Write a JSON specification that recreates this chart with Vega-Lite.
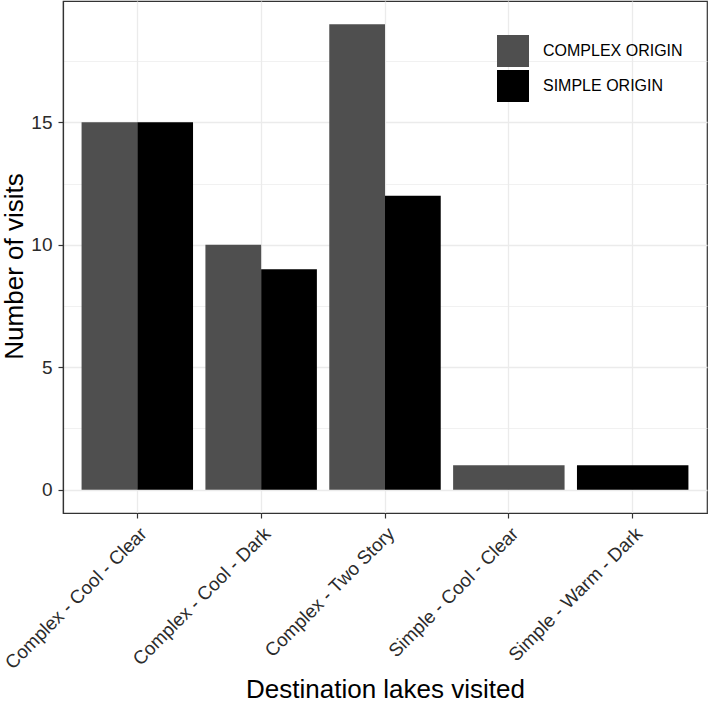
{
  "$schema": "https://vega.github.io/schema/vega-lite/v6.json",
  "width": 644,
  "height": 512,
  "autosize": {"type": "none"},
  "padding": {"left": 63, "top": 1, "right": 2, "bottom": 190},
  "background": "white",
  "config": {
    "font": "Liberation Sans",
    "view": {"stroke": "#333333", "strokeWidth": 1.2},
    "axis": {
      "gridColor": "#ebebeb",
      "gridWidth": 1.3,
      "domainColor": "#333333",
      "domainWidth": 1.2,
      "tickColor": "#333333",
      "tickWidth": 1.2,
      "tickSize": 5,
      "labelColor": "#2b2b2b",
      "labelFontSize": 19,
      "labelFont": "Liberation Sans",
      "labelLimit": 0,
      "titleFont": "Liberation Sans",
      "titleFontSize": 26,
      "titleFontWeight": "normal",
      "titleColor": "#000000"
    }
  },
  "data": {
    "values": [
      {"lake": "Complex - Cool - Clear", "origin": "COMPLEX ORIGIN", "visits": 15},
      {"lake": "Complex - Cool - Clear", "origin": "SIMPLE ORIGIN", "visits": 15},
      {"lake": "Complex - Cool - Dark", "origin": "COMPLEX ORIGIN", "visits": 10},
      {"lake": "Complex - Cool - Dark", "origin": "SIMPLE ORIGIN", "visits": 9},
      {"lake": "Complex - Two Story", "origin": "COMPLEX ORIGIN", "visits": 19},
      {"lake": "Complex - Two Story", "origin": "SIMPLE ORIGIN", "visits": 12},
      {"lake": "Simple - Cool - Clear", "origin": "COMPLEX ORIGIN", "visits": 1},
      {"lake": "Simple - Warm - Dark", "origin": "SIMPLE ORIGIN", "visits": 1}
    ]
  },
  "transform": [
    {"joinaggregate": [{"op": "count", "as": "n"}], "groupby": ["lake"]}
  ],
  "layer": [
    {
      "transform": [{"filter": "datum.n > 1"}],
      "mark": {"type": "bar"},
      "encoding": {
        "x": {
          "field": "lake",
          "type": "nominal",
          "sort": null,
          "scale": {"paddingInner": 0.1, "paddingOuter": 0.15},
          "axis": {
            "title": "Destination lakes visited",
            "labelAngle": -45,
            "labelAlign": "right",
            "labelBaseline": "top",
            "labelFontSize": 18.8,
            "labelPadding": 6,
            "bandPosition": 0.5,
            "grid": true,
            "titleBaseline": "alphabetic",
            "titleY": 184
          }
        },
        "xOffset": {
          "field": "origin",
          "type": "nominal",
          "scale": {"paddingInner": 0, "paddingOuter": 0}
        },
        "y": {
          "field": "visits",
          "type": "quantitative",
          "scale": {"domain": [-0.95, 19.95], "nice": false, "zero": false},
          "axis": {
            "title": "Number of visits",
            "values": [0, 5, 10, 15],
            "labelPadding": 6,
            "grid": true,
            "titleBaseline": "alphabetic",
            "titleX": -40.5,
            "titleY": 265
          }
        },
        "y2": {"datum": 0},
        "color": {
          "field": "origin",
          "type": "nominal",
          "scale": {"domain": ["COMPLEX ORIGIN", "SIMPLE ORIGIN"], "range": ["#4f4f4f", "#000000"]},
          "legend": {
            "title": null,
            "orient": "none",
            "legendX": 434,
            "legendY": 34,
            "padding": 0,
            "symbolType": "square",
            "symbolSize": 1024,
            "symbolStrokeWidth": 0,
            "labelFontSize": 16,
            "labelFont": "Liberation Sans",
            "labelColor": "#000000",
            "labelOffset": 14,
            "rowPadding": 3
          }
        }
      }
    },
    {
      "transform": [{"filter": "datum.n == 1"}],
      "mark": {"type": "bar"},
      "encoding": {
        "x": {"field": "lake", "type": "nominal", "sort": null},
        "y": {
          "field": "visits",
          "type": "quantitative",
          "axis": {
            "orient": "right",
            "title": null,
            "values": [2.5, 7.5, 12.5, 17.5],
            "labels": false,
            "ticks": false,
            "domain": false,
            "grid": true,
            "gridWidth": 0.7
          }
        },
        "y2": {"datum": 0},
        "color": {"field": "origin", "type": "nominal"}
      }
    }
  ],
  "resolve": {"axis": {"y": "independent"}}
}
